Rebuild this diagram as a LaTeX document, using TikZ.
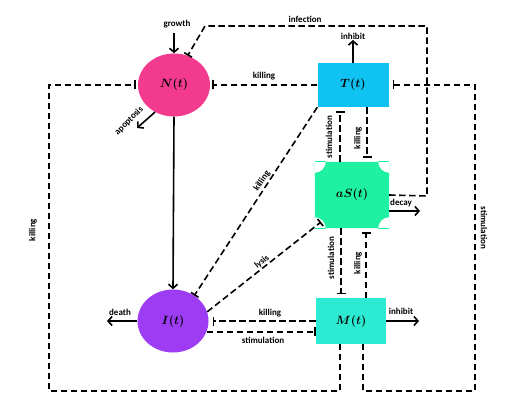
\documentclass[tikz,border=0pt]{standalone}
\usepackage{fontspec}
\setmainfont{Carlito}
\usetikzlibrary{arrows.meta,shapes.geometric,calc,backgrounds}
\definecolor{npink}{HTML}{F23A8E}
\definecolor{tblue}{HTML}{10C2F2}
\definecolor{sgreen}{HTML}{1EF2A2}
\definecolor{mcyan}{HTML}{2CEBD2}
\definecolor{ipurple}{HTML}{9D3CF2}
\begin{document}
\begin{tikzpicture}[x=1pt,y=-1pt,
  dsh/.style={line width=1.6pt,dash pattern=on 6.5pt off 3.5pt},
  bar/.style={-{Bar[width=9pt,line width=1.6pt]}},
  arr/.style={line width=1.6pt,-{Straight Barb[length=4pt,width=9pt,line width=1.6pt]}},
  lab/.style={font=\fontsize{9}{10}\selectfont\bfseries, inner sep=1pt},
  var/.style={font=\fontsize{13}{15}\selectfont\boldmath, inner sep=0pt}
]
\useasboundingbox (0,0) rectangle (517,406);

% nodes
\node[ellipse, fill=npink, minimum width=72pt, minimum height=63pt, var] (N) at (174,85) {$N(t)$};
\node[ellipse, fill=ipurple, minimum width=71pt, minimum height=63pt, var] (I) at (173,321) {$I(t)$};
\node[rectangle, fill=tblue, minimum width=71pt, minimum height=44pt, var] (T) at (353,85) {$T(t)$};
\node[rectangle, fill=mcyan, minimum width=70pt, minimum height=45pt, var] (M) at (351,321) {$M(t)$};
\node[rectangle, minimum width=74pt, minimum height=66pt, var] (S) at (352,195) {$aS(t)$};
\begin{scope}[on background layer]
  \clip (S.north west) rectangle (S.south east);
  \fill[sgreen, even odd rule] (S.north west) rectangle (S.south east)
     (S.north west) circle (11pt) (S.north east) circle (11pt)
     (S.south west) circle (11pt) (S.south east) circle (11pt);
\end{scope}

% free ends
\coordinate (g) at (174,33);
\coordinate (ap) at (137,128);
\coordinate (tinh) at (353,40);
\coordinate (minh) at (419,321);
\coordinate (dth) at (107,321);
\coordinate (dec) at (420,211);
\coordinate (inf1) at (427,196);
\coordinate (inf2) at (427,26);
\coordinate (inf3) at (205,26);
\coordinate (st1) at (363,391);
\coordinate (st2) at (475,391);
\coordinate (st3) at (475,85);
\coordinate (k1) at (340,391);
\coordinate (k2) at (49,391);
\coordinate (k3) at (49,85);
\coordinate (lys) at (321,222);

% solid arrows
\draw[arr] (g) -- (N.north);
\draw[arr] (N.-125) -- (ap);
\draw[arr] (N.south) -- (I.north);
\draw[arr] (T.north) -- (tinh);
\draw[arr] (M.east) -- (minh);
\draw[arr] (I.west) -- (dth);
\draw[arr] (S.east |- dec) -- (dec);

% dashed inhibitions
\draw[dsh,bar,shorten >=2pt] (T.west) -- (N.east);
\draw[dsh,bar] (S.east) -- (inf1) -- (inf2) -- (inf3) -- (N.65);
\draw[dsh,bar,shorten >=4pt] ([xshift=12pt]M.south) -- (st1) -- (st2) -- (st3) -- (T.east);
\draw[dsh,bar,shorten >=2pt] ([xshift=-11pt]M.south) -- (k1) -- (k2) -- (k3) -- (N.west);
\draw[dsh,bar] (T.south west) -- (I.50);
\draw[dsh,bar] (I.15) -- (lys);
\draw[dsh,bar,shorten >=4pt] (M.west) -- (I.east);
\draw[dsh,bar] (I.-18) -- (I.-18 -| M.west);
\draw[dsh,bar,shorten >=4pt] ([xshift=-12pt]S.north) -- ([xshift=-12pt]S.north |- T.south);
\draw[dsh,bar,shorten >=4pt] ([xshift=14pt]T.south) -- ([xshift=14pt]T.south |- S.north);
\draw[dsh,bar,shorten >=4pt] ([xshift=-11pt]S.south) -- ([xshift=-11pt]S.south |- M.north);
\draw[dsh,bar,shorten >=4pt] ([xshift=15pt]M.north) -- ([xshift=15pt]M.north |- S.south);

% labels
\node[lab] (lgrowth) at (177,24) {growth};
\node[lab, rotate=45] (lapop) at (129,121) {apoptosis};
\node[lab] (linf) at (305,19) {infection};
\node[lab] (ltinh) at (353,36) {inhibit};
\node[lab] (lkTN) at (264,76) {killing};
\node[lab, rotate=90] (lkL) at (33,230) {killing};
\node[lab, rotate=-90] (lstR) at (484,228) {stimulation};
\node[lab, rotate=56] (lkTI) at (262,181) {killing};
\node[lab, rotate=39] (llys) at (262,262) {lysis};
\node[lab, rotate=90] (lstTS) at (329,137) {stimulation};
\node[lab, rotate=90] (lkTS) at (358,138) {killing};
\node[lab, rotate=90] (lstSM) at (331,258) {stimulation};
\node[lab, rotate=90] (lkSM) at (358,263) {killing};
\node[lab] (ldecay) at (401,203) {decay};
\node[lab] (lminh) at (401,311) {inhibit};
\node[lab] (ldeath) at (120,312) {death};
\node[lab] (lkMI) at (270,313) {killing};
\node[lab] (lstIM) at (263,340) {stimulation};
\end{tikzpicture}
\end{document}
